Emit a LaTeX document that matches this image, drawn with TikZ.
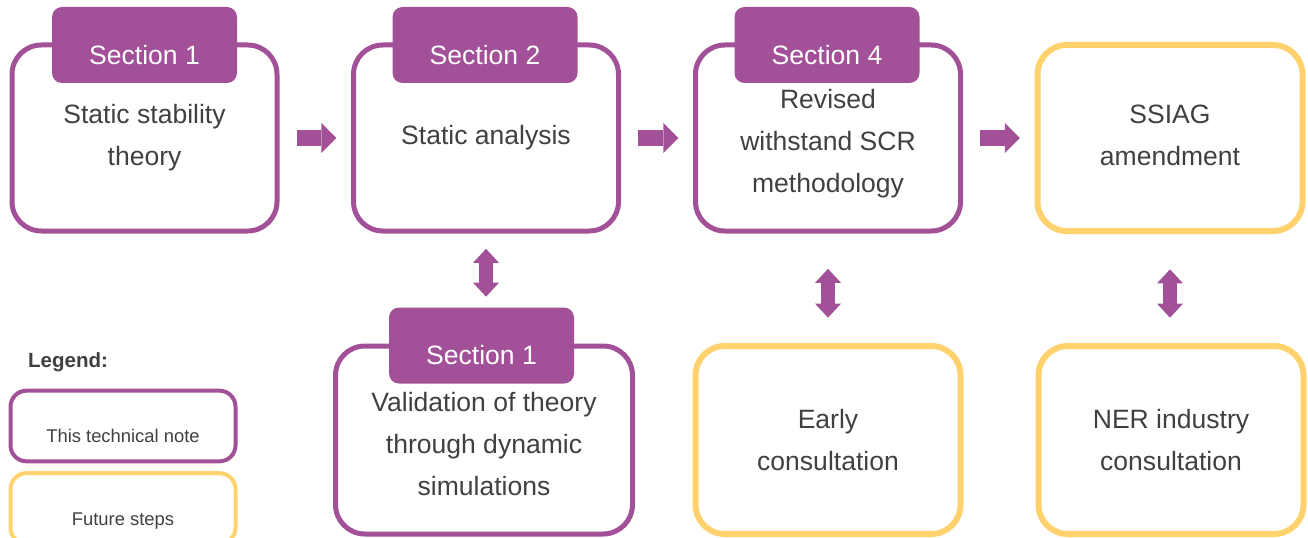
\documentclass[tikz,border=0pt]{standalone}
\usepackage{fontspec}
\setmainfont{Liberation Sans}
\usetikzlibrary{arrows.meta}
\definecolor{notepurple}{RGB}{162,81,152}
\definecolor{futureyellow}{RGB}{255,210,110}
\definecolor{textgray}{RGB}{64,64,64}
\begin{document}
\begin{tikzpicture}[x=0.75pt,y=-0.75pt,
  mainfont/.style={font=\fontsize{19.9}{31.5}\selectfont},
  notebox/.style={draw=notepurple, line width=3.75pt, rounded corners=22pt, minimum width=198.75pt, minimum height=139.5pt, inner sep=0pt, align=center, text=textgray, mainfont},
  futurebox/.style={notebox, draw=futureyellow, line width=4.5pt},
  sectiontab/.style={fill=notepurple, rounded corners=7.5pt, minimum width=138.75pt, minimum height=57pt, inner sep=0pt, text=white, mainfont, text height=29pt, text depth=0pt},
  legendbox/.style={draw=#1, line width=3pt, rounded corners=12pt, minimum width=168.75pt, minimum height=53pt, inner sep=0pt, text=textgray, font=\fontsize{13.8}{16}\selectfont, text height=25pt, text depth=0pt},
  flowarrow/.style={notepurple, line width=12pt, -{Triangle[width=22.5pt,length=11.25pt,line width=0pt]}, shorten <=13pt, shorten >=11pt},
  linkarrow/.style={notepurple, line width=10.5pt, {Triangle[width=19.5pt,length=10.5pt,line width=0pt]}-{Triangle[width=19.5pt,length=10.5pt,line width=0pt]}}]
\useasboundingbox (0,0) rectangle (1308,538);
% top row:
\node[notebox] (b1) at (144.5,138) {Static stability\\theory};
\node[notebox] (b2) at (486,138) {Static analysis};
\node[notebox, text height=86.5pt] (b3) at (828,138) {Revised\\withstand SCR\\methodology};
\node[futurebox, text depth=4.5pt] (b4) at (1170,138) {SSIAG\\amendment};
\node[sectiontab] (t1) at (144.5,45) {Section 1};
\node[sectiontab] (t2) at (485,45) {Section 2};
\node[sectiontab] (t3) at (827,45) {Section 4};
% bottom row:
\node[notebox, minimum width=222.75pt, minimum height=141pt, text height=83.5pt] (b5) at (484,440) {Validation of theory\\through dynamic\\simulations};
\node[futurebox, minimum height=141pt] (b6) at (828,440) {Early\\consultation};
\node[futurebox, minimum height=141pt] (b7) at (1171,440) {NER industry\\consultation};
\node[sectiontab] (t5) at (481.5,345.5) {Section 1};
% arrows:
\draw[flowarrow] (b1.east) -- (b2.west);
\draw[flowarrow] (b2.east) -- (b3.west);
\draw[flowarrow] (b3.east) -- (b4.west);
\draw[linkarrow, shorten <=11.5pt, shorten >=7.9pt] (b2.south) -- (b2.south |- t5.north);
\draw[linkarrow, shorten <=26.5pt, shorten >=19pt] (b3.south) -- (b6.north);
\draw[linkarrow, shorten <=26.5pt, shorten >=19pt] (b4.south) -- (b4.south |- b7.north);
% legend:
\node[text=textgray, font=\bfseries\fontsize{15.4}{18}\selectfont] (lg) at (68,362) {Legend:};
\node[legendbox=notepurple] (lg1) at (123,426) {This technical note};
\node[legendbox=futureyellow] (lg2) at (123,508.5) {Future steps};
\end{tikzpicture}
\end{document}
